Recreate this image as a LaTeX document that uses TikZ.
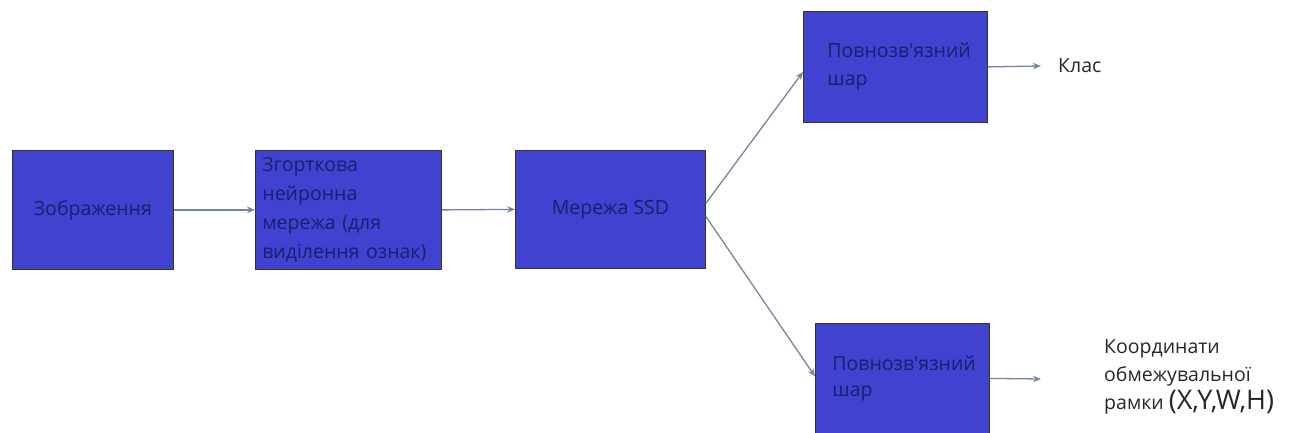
\documentclass[tikz,border=0pt]{standalone}
\usepackage{fontspec}
\setmainfont{Open Sans}[Ligatures=TeXOff]
\usetikzlibrary{arrows.meta}
\definecolor{boxfill}{RGB}{64,66,208}
\definecolor{boxtext}{RGB}{28,30,110}
\definecolor{flow}{RGB}{118,134,156}
\tikzset{
  block/.style={draw=black!80, line width=0.8pt, fill=boxfill, text=boxtext,
    font=\fontsize{19.5}{29}\selectfont, inner sep=0pt, anchor=north west},
  flowarrow/.style={draw=flow, line width=1.3pt, -{Stealth[length=8pt,width=6.5pt]}},
  outlabel/.style={anchor=west, text=black!85, font=\fontsize{19.5}{28}\selectfont, align=left, inner sep=0pt}
}
\begin{document}
\begin{tikzpicture}[x=1pt,y=-1pt]
\useasboundingbox (0,0) rectangle (1298,433);

% processing blocks
\node[block, minimum width=161pt, minimum height=119pt] (img) at (12,150) {Зображення};
\node[block, minimum width=186pt, minimum height=119pt, text width=172pt, align=left] (cnn) at (255,150)
  {Згорткова\\нейронна\\мережа (для\\виділення ознак)};
\node[block, minimum width=190pt, minimum height=118pt] (ssd) at (515,150) {Мережа SSD};
\node[block, minimum width=184pt, minimum height=111pt, text width=148pt, align=left,
  font=\fontsize{19.5}{28}\selectfont] (fc1) at (803,11) {\hspace*{6pt}Повнозв'язний\\\hspace*{6pt}шар};
\node[block, minimum width=174pt, minimum height=110pt, text width=148pt, align=left,
  font=\fontsize{19.5}{26}\selectfont] (fc2) at (815,323) {\hspace*{4pt}Повнозв'язний\\\hspace*{4pt}шар};

% outputs
\coordinate (o1) at (1041,66);
\coordinate (o2) at (1041,379);
\node[outlabel] (cls) at (1058,66) {Клас};
\node[outlabel, anchor=north west] (box) at (1104,339)
  {Координати\\обмежувальної\\рамки {\fontsize{27}{28}\selectfont(X,Y,W,H)}};

% connectors
\draw[flowarrow] (img.east) -- (cnn.west);
\draw[flowarrow] (cnn.east) -- (ssd.west);
\draw[flowarrow] ([yshift=6pt]ssd.east) -- ([yshift=-5pt]fc1.west);
\draw[flowarrow] ([yshift=-7pt]ssd.east) -- ([yshift=2pt]fc2.west);
\draw[flowarrow] (fc1.east) -- (o1);
\draw[flowarrow] (fc2.east) -- (o2);
\end{tikzpicture}
\end{document}
